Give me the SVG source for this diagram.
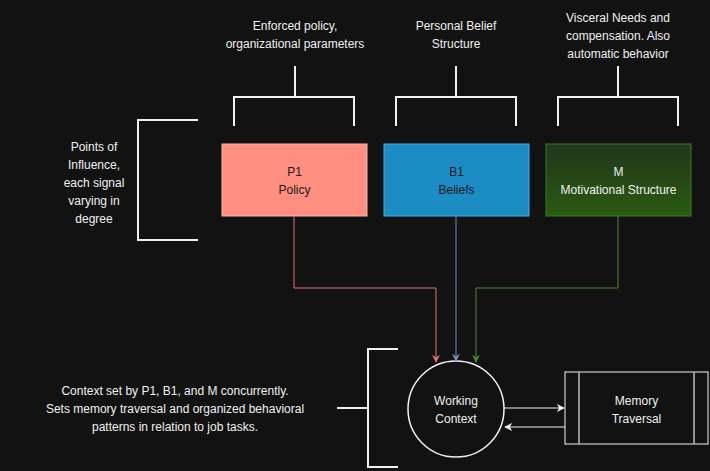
<svg xmlns="http://www.w3.org/2000/svg" width="710" height="471" viewBox="0 0 710 471">
<style>
text{font-family:"Liberation Sans",Arial,sans-serif;font-size:12px;text-anchor:middle}
.w{fill:#f0f0f0}.d{fill:#1a1a1a}
.br{fill:none;stroke:#f0f0f0;stroke-width:2}
</style>
<defs>
<marker id="ar" viewBox="0 0 10 10" refX="9" refY="5" markerWidth="8" markerHeight="8" orient="auto" markerUnits="userSpaceOnUse"><path d="M0,0 L10,5 L0,10 L3,5 Z" fill="context-stroke"/></marker>
<linearGradient id="g" x1="0" y1="0" x2="0" y2="1"><stop offset="0" stop-color="#22361c"/><stop offset="1" stop-color="#2a5a10"/></linearGradient>
</defs>
<rect width="710" height="471" fill="#121212"/>
<g id="brackets">
<path class="br" d="M295,66V97M234,126V97H354V126"/>
<path class="br" d="M456,66V97M396,126V97H516V126"/>
<path class="br" d="M618,66V97M558,126V97H678V126"/>
<path class="br" d="M198,120H138V240H198"/>
<path class="br" d="M398,349H368V467H398M337,408H368"/>
</g>
<g id="labels">
<text class="w" x="295" y="30">Enforced policy,</text>
<text class="w" x="295" y="48">organizational parameters</text>
<text class="w" x="456" y="30">Personal Belief</text>
<text class="w" x="456" y="48">Structure</text>
<text class="w" x="618" y="22">Visceral Needs and</text>
<text class="w" x="618" y="40">compensation. Also</text>
<text class="w" x="618" y="58">automatic behavior</text>
<text class="w" x="94" y="151">Points of</text>
<text class="w" x="94" y="169">Influence,</text>
<text class="w" x="94" y="187">each signal</text>
<text class="w" x="94" y="205">varying in</text>
<text class="w" x="94" y="223">degree</text>
<text class="w" x="175" y="395">Context set by P1, B1, and M concurrently.</text>
<text class="w" x="175" y="413">Sets memory traversal and organized behavioral</text>
<text class="w" x="175" y="431">patterns in relation to job tasks.</text>
</g>
<g id="p1"><rect x="222" y="144" width="145" height="72" fill="#ff8f80" stroke="#f4b8b0"/><text class="d" x="294.5" y="176">P1</text><text class="d" x="294.5" y="194">Policy</text></g>
<g id="b1"><rect x="384" y="144" width="145" height="72" fill="#1b8dc4" stroke="#4aa8e8"/><text class="d" x="456.5" y="176">B1</text><text class="d" x="456.5" y="194">Beliefs</text></g>
<g id="m"><rect x="546" y="144" width="145" height="72" fill="url(#g)" stroke="#3d7a22"/><text class="w" x="618.5" y="176">M</text><text class="w" x="618.5" y="194">Motivational Structure</text></g>
<g id="wc"><circle cx="456" cy="409" r="48" fill="#121212" stroke="#f0f0f0" stroke-width="1.5"/><text class="w" x="456" y="405">Working</text><text class="w" x="456" y="423">Context</text></g>
<g id="mt"><rect x="565" y="372" width="143" height="72" fill="#121212" stroke="#f0f0f0"/><path d="M579,372V444M694,372V444" stroke="#bbb" stroke-width="1.5"/><text class="w" x="636.5" y="405">Memory</text><text class="w" x="636.5" y="423">Traversal</text></g>
<g id="connectors" fill="none">
<path d="M294,216V288H436V362" stroke="#e07070" marker-end="url(#ar)"/>
<path d="M456,216V361" stroke="#6c8ebf" marker-end="url(#ar)"/>
<path d="M618,216V288H476V362" stroke="#4a8a2a" marker-end="url(#ar)"/>
<path d="M504,408H564" stroke="#f0f0f0" marker-end="url(#ar)"/>
<path d="M565,427H505" stroke="#f0f0f0" marker-end="url(#ar)"/>
</g>
</svg>
